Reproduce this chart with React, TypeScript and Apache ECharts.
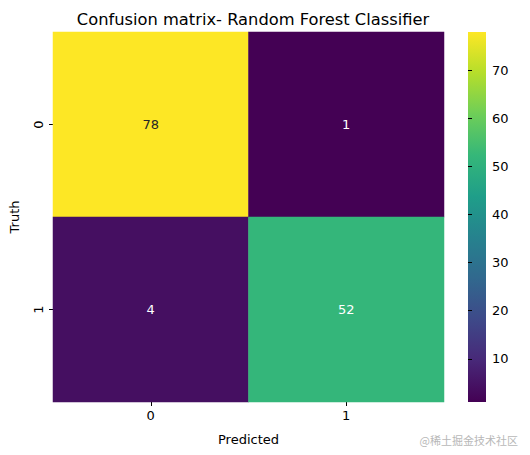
import React, { useEffect, useRef } from "react";
import * as echarts from "echarts";

const predictedLabels = ["0", "1"];
const truthLabels = ["0", "1"];
// rows = truth, cols = predicted
const matrix = [
  [78, 1],
  [4, 52],
];
const colorbarTicks = [10, 20, 30, 40, 50, 60, 70];
const viridis = [
  "#440154", "#482878", "#3e4989", "#31688e", "#26828e",
  "#1f9e89", "#35b779", "#6ece58", "#b5de2b", "#fde725",
];

const FONT = "DejaVu Sans";

export default function App() {
  const ref = useRef<HTMLDivElement>(null);
  useEffect(() => {
    const chart = echarts.init(ref.current!, null, { renderer: "svg" });
    const flat = matrix.flat();
    const vmin = Math.min(...flat);
    const vmax = Math.max(...flat);
    const data: any[] = [];
    matrix.forEach((row, r) =>
      row.forEach((v, c) => {
        const frac = (v - vmin) / (vmax - vmin);
        data.push({
          value: [c, r, v],
          label: { color: frac > 0.8 ? "#262626" : "#ffffff" },
        });
      })
    );
    const gridL = 52, gridT = 32, gridW = 392, gridH = 370;
    const cbL = 468, cbW = 18;
    chart.setOption({
      animation: false,
      textStyle: { fontFamily: FONT },
      title: {
        text: "Confusion matrix- Random Forest Classifier",
        left: gridL + gridW / 2,
        textAlign: "center",
        top: 6,
        textStyle: { fontFamily: FONT, fontSize: 16.3, fontWeight: "normal", color: "#000" },
      },
      grid: [
        { left: gridL, top: gridT, width: gridW, height: gridH },
        { left: cbL, top: gridT, width: cbW, height: gridH },
      ],
      xAxis: [
        {
          type: "category",
          data: predictedLabels,
          gridIndex: 0,
          name: "Predicted",
          nameLocation: "middle",
          nameGap: 31,
          nameTextStyle: { fontFamily: FONT, fontSize: 13, color: "#000" },
          axisLine: { show: false },
          axisTick: { show: true, alignWithLabel: true, length: 4, lineStyle: { color: "#000" } },
          axisLabel: { fontFamily: FONT, fontSize: 13, color: "#000", margin: 7 },
          splitLine: { show: false },
        },
        {
          type: "value",
          gridIndex: 1,
          show: false,
          min: 0,
          max: 1,
        },
      ],
      yAxis: [
        {
          type: "category",
          data: truthLabels,
          gridIndex: 0,
          inverse: true,
          name: "Truth",
          nameLocation: "middle",
          nameGap: 32,
          nameRotate: 90,
          nameTextStyle: { fontFamily: FONT, fontSize: 13, color: "#000" },
          axisLine: { show: false },
          axisTick: { show: true, alignWithLabel: true, length: 4, lineStyle: { color: "#000" } },
          axisLabel: { fontFamily: FONT, fontSize: 13, color: "#000", rotate: 90, margin: 8 },
          splitLine: { show: false },
        },
        {
          type: "value",
          gridIndex: 1,
          position: "right",
          min: vmin,
          max: vmax,
          axisLine: { show: false },
          axisTick: {
            show: true,
            length: 4,
            inside: false,
            customValues: colorbarTicks,
            lineStyle: { color: "#000" },
          },
          axisLabel: {
            fontFamily: FONT,
            fontSize: 13,
            color: "#000",
            margin: 6,
            customValues: colorbarTicks,
          },
          splitLine: { show: false },
        },
      ],
      visualMap: {
        show: false,
        min: vmin,
        max: vmax,
        seriesIndex: 0,
        dimension: 2,
        inRange: { color: viridis },
      },
      graphic: [
        {
          type: "rect",
          shape: { x: cbL, y: gridT, width: cbW, height: gridH },
          style: {
            fill: new echarts.graphic.LinearGradient(
              0, 1, 0, 0,
              viridis.map((c, i) => ({ offset: i / (viridis.length - 1), color: c }))
            ),
          },
          z: -1,
        },
        {
          type: "text",
          right: 12,
          bottom: 10,
          style: {
            text: "@稀土掘金技术社区",
            font: '11px "Noto Sans CJK SC"',
            fill: "#b8b8b8",
          },
        },
      ],
      series: [
        {
          type: "heatmap",
          xAxisIndex: 0,
          yAxisIndex: 0,
          data,
          label: { show: true, fontFamily: FONT, fontSize: 13 },
          itemStyle: { borderWidth: 0 },
          emphasis: { disabled: true },
        },
      ],
    });
    return () => chart.dispose();
  }, []);
  return <div ref={ref} style={{ width: 530, height: 455, margin: -8 }} />;
}
